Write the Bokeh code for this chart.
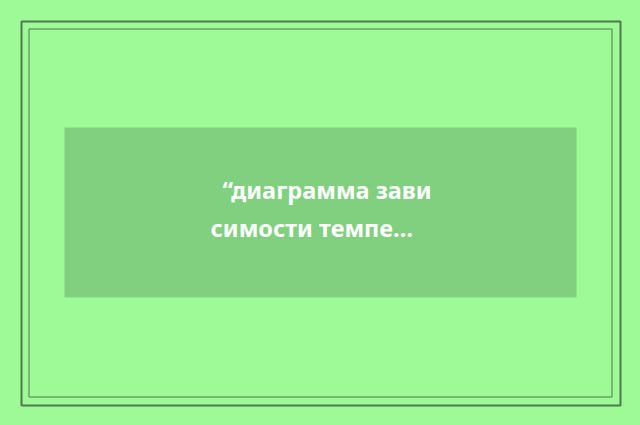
from bokeh.plotting import figure
from bokeh.models import Range1d
from bokeh.core.properties import value
from bokeh.embed import file_html
from bokeh.resources import INLINE

# ---- content ----
title_lines = ["\u201cдиаграмма зави", "симости темпе\u2026"]

# ---- style ----
BG = "#9dfa96"
PANEL = "#80d080"
FRAME = "#4e7a4e"
TEXT = "#ffffff"

W, H = 640, 425
p = figure(width=W, height=H, output_backend="svg", toolbar_location=None,
           x_range=Range1d(0, W), y_range=Range1d(H, 0),
           min_border=0, background_fill_color=BG, border_fill_color=BG)
p.axis.visible = False
p.grid.visible = False
p.outline_line_color = None

# double frame
p.quad(left=[21], right=[620], top=[21], bottom=[405], fill_alpha=0,
       line_color=FRAME, line_width=2)
p.quad(left=[28.5], right=[611.5], top=[28.5], bottom=[396.5], fill_alpha=0,
       line_color=FRAME, line_width=1)

# panel
p.quad(left=[64], right=[576], top=[127], bottom=[297], fill_color=PANEL,
       line_color=None)

# text lines
xs = [222, 210]
ys = [189 + 38 * i for i in range(len(title_lines))]
p.text(x=xs[:len(title_lines)], y=ys, text=title_lines, text_color=TEXT,
       text_font=value("Noto Sans"), text_font_style="bold",
       text_font_size="23.5px", text_align="left", text_baseline="alphabetic")

html = file_html(p, INLINE)
html = html.replace("</head>",
                    "<style>html,body{margin:0!important;padding:0!important;"
                    "background:%s!important;overflow:hidden;}</style></head>" % BG, 1)
open("out.html", "w").write(html)
